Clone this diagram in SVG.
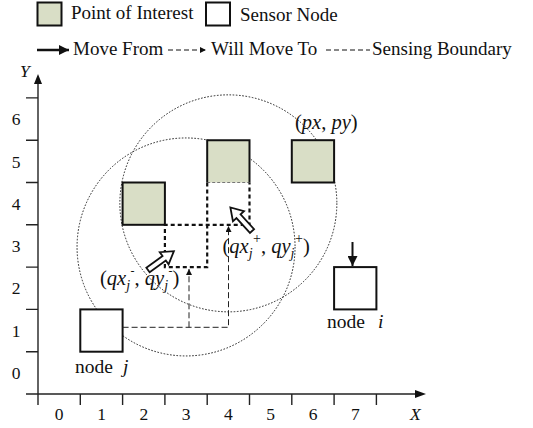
<svg xmlns="http://www.w3.org/2000/svg" width="533" height="428" viewBox="0 0 533 428" font-family="'Liberation Serif', 'DejaVu Serif', Times, serif">
<style>
text{font-family:'Liberation Serif','DejaVu Serif',Times,serif;fill:#111}
.lg{font-size:19px}
.ax{font-size:17.5px}
.lb{font-size:19.5px}
.co{font-size:20.5px}
.it{font-style:italic}
.poi{fill:#d9dec6;stroke:#111;stroke-width:2}
.sn{fill:#fff;stroke:#111;stroke-width:2}
.circ{fill:none;stroke:#222;stroke-width:1;stroke-dasharray:1.6 1.6}
.bold{fill:none;stroke:#111;stroke-width:2.2;stroke-dasharray:4 3}
.thin{fill:none;stroke:#222;stroke-width:1;stroke-dasharray:6 3}
.axis{fill:none;stroke:#222;stroke-width:1.4}
.hol{fill:#fff;stroke:#111;stroke-width:1.8;stroke-linejoin:miter}
</style>
<defs>
<marker id="ah" viewBox="0 0 10 10" refX="10" refY="5" markerWidth="6" markerHeight="6" markerUnits="userSpaceOnUse" orient="auto"><path d="M0,0L10,5L0,10Z" fill="#111"/></marker>
<marker id="ahb" viewBox="0 0 10 10" refX="10" refY="5" markerWidth="10" markerHeight="10" markerUnits="userSpaceOnUse" orient="auto"><path d="M0,0L10,5L0,10Z" fill="#111"/></marker>
<path id="hollow" d="M0,-2.8L20,-2.8L20,-7.5L32,0L20,7.5L20,2.8L0,2.8Z"/>
</defs>

<g id="legend">
<rect class="poi" x="37.5" y="2.5" width="24" height="23"/>
<text class="lg" x="71" y="19">Point of Interest</text>
<rect class="sn" x="206" y="2.5" width="24" height="23"/>
<text class="lg" x="240" y="20.5">Sensor Node</text>
<line x1="37" y1="50" x2="69" y2="50" stroke="#111" stroke-width="2.5" marker-end="url(#ahb)"/>
<text class="lg" x="73" y="55">Move From</text>
<line x1="168" y1="50" x2="206" y2="50" stroke="#111" stroke-width="1" stroke-dasharray="5 3" marker-end="url(#ah)"/>
<text class="lg" x="211" y="55">Will Move To</text>
<line x1="326" y1="50" x2="370" y2="50" stroke="#111" stroke-width="1" stroke-dasharray="5 3"/>
<text class="lg" x="372" y="55">Sensing Boundary</text>
</g>

<g id="axes">
<line class="axis" x1="38" y1="405" x2="38" y2="82"/>
<path d="M38,74L34,84L42,84Z" fill="#111"/>
<line class="axis" x1="26" y1="394" x2="416" y2="394"/>
<path d="M426,394L415,390L415,398Z" fill="#111"/>
<path class="axis" d="M26,351.7H38M26,309.4H38M26,267.1H38M26,224.8H38M26,182.5H38M26,140.2H38M26,97.9H38"/>
<path class="axis" d="M80.3,394V405M122.6,394V405M164.9,394V405M207.2,394V405M249.5,394V405M291.8,394V405M334.1,394V405M376.4,394V405"/>
<g class="ax" text-anchor="middle">
<text x="59.2" y="420">0</text><text x="101.5" y="420">1</text><text x="143.8" y="420">2</text><text x="186.1" y="420">3</text><text x="228.4" y="420">4</text><text x="270.7" y="420">5</text><text x="313" y="420">6</text><text x="355.3" y="420">7</text>
<text x="16" y="379">0</text><text x="16" y="336.7">1</text><text x="16" y="294.4">2</text><text x="16" y="252.1">3</text><text x="16" y="209.8">4</text><text x="16" y="167.5">5</text><text x="16" y="125.2">6</text>
</g>
<text class="ax it" x="410" y="420">X</text>
<text class="ax it" x="20" y="77">Y</text>
</g>

<g id="boundaries">
<circle class="circ" cx="186.05" cy="246.95" r="109"/>
<circle class="circ" cx="228.35" cy="203.35" r="108.5"/>
</g>

<g id="poi-2-4"><rect class="poi" x="122.6" y="182.5" width="42.3" height="42.3"/></g>
<g id="poi-4-5">
<rect x="207.2" y="140.2" width="42.3" height="42.3" fill="#d9dec6"/>
<path d="M207.2,182.5V140.2H249.5V182.5" fill="none" stroke="#111" stroke-width="2"/>
<line x1="207.2" y1="182.5" x2="249.5" y2="182.5" stroke="#777" stroke-width="1" stroke-dasharray="3 2"/>
</g>
<g id="poi-6-5"><rect class="poi" x="291.8" y="140.2" width="42.3" height="42.3"/></g>

<g id="node-j">
<rect class="sn" x="80.3" y="309.4" width="42.3" height="42.3"/>
<text class="lb" x="75" y="373">node</text>
<text class="lb it" x="123" y="373">j</text>
</g>
<g id="node-i">
<rect class="sn" x="334.1" y="267.1" width="42.3" height="42.3"/>
<text class="lb" x="327" y="327.5">node</text>
<text class="lb it" x="378" y="327.5">i</text>
</g>

<g id="connectors">
<path class="bold" d="M207.2,182.5V267.1H164.9V224.8H249.5V182.5"/>
<path class="thin" d="M122.6,327.3H228.5V226" marker-end="url(#ah)"/>
<path class="thin" d="M189,327.3V269" marker-end="url(#ah)"/>
<line x1="352.5" y1="242" x2="352.5" y2="266" stroke="#111" stroke-width="2" marker-end="url(#ahb)"/>
<use href="#hollow" class="hol" transform="translate(148,270) rotate(-36)"/>
<use href="#hollow" class="hol" transform="translate(252,231) rotate(-132.5)"/>
</g>

<g id="labels">
<text class="co" x="295" y="128.5">(<tspan class="it">px</tspan>, <tspan class="it">py</tspan>)</text>
<text class="co" x="222.5" y="252.5">(<tspan class="it">qx</tspan><tspan class="it" font-size="14" dy="5">j</tspan><tspan font-size="14" dx="0.5" dy="-15">+</tspan><tspan dy="10">, </tspan><tspan class="it">qy</tspan><tspan class="it" font-size="14" dy="5">j</tspan><tspan font-size="14" dx="0.5" dy="-15">+</tspan><tspan dy="10">)</tspan></text>
<text class="co" x="100" y="285">(<tspan class="it">qx</tspan><tspan class="it" font-size="14" dy="5">j</tspan><tspan font-size="12" dx="0.5" dy="-15">-</tspan><tspan dy="10">, </tspan><tspan class="it">qy</tspan><tspan class="it" font-size="14" dy="5">j</tspan><tspan font-size="12" dx="0.5" dy="-15">-</tspan><tspan dy="10">)</tspan></text>
</g>
</svg>
